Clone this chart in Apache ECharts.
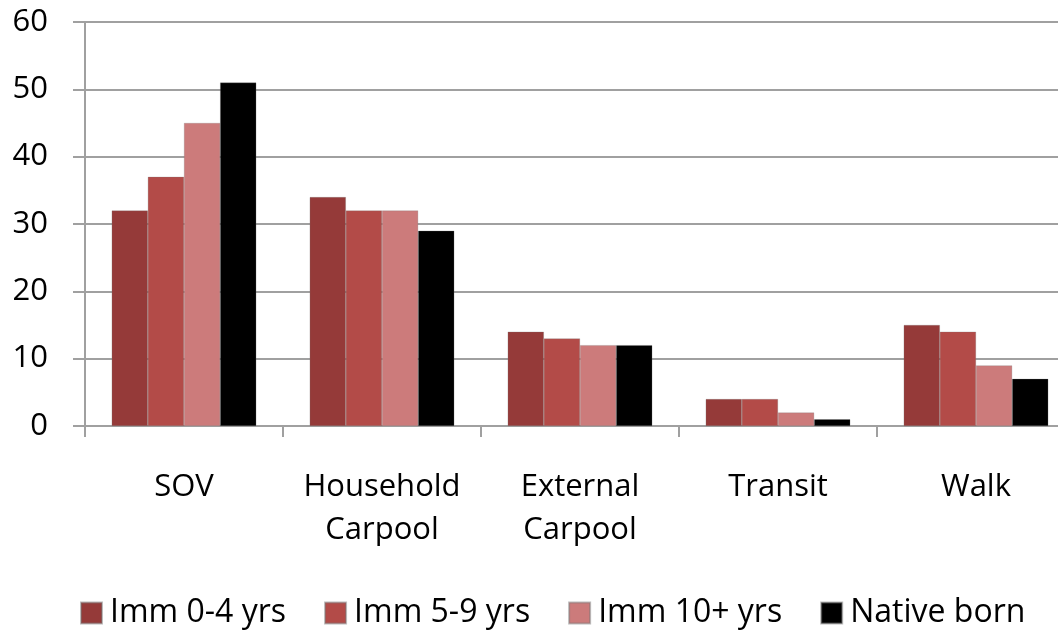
<!DOCTYPE html>
<html>
<head>
<meta charset="utf-8">
<script src="https://cdn.jsdelivr.net/npm/echarts@6/dist/echarts.min.js"></script>
<style>
  html, body { margin: 0; padding: 0; background: #fff; overflow: hidden; }
  /* the plot runs slightly past the right edge of the page */
  #chart { width: 1075px; height: 630px; }
</style>
</head>
<body>
<div id="chart"></div>
<script>
// Commute mode share (%) by immigrant tenure
const categories = ['SOV', 'Household\nCarpool', 'External\nCarpool', 'Transit', 'Walk'];
const seriesNames = ['Imm 0-4 yrs', 'Imm 5-9 yrs', 'Imm 10+ yrs', 'Native born'];
const imm04 = [32, 34, 14, 4, 15];
const imm59 = [37, 32, 13, 4, 14];
const imm10 = [45, 32, 12, 2, 9];
const nativeBorn = [51, 29, 12, 1, 7];
const yTicks = { min: 0, max: 60, interval: 10 };

const colors = ['#953A39', '#B34B48', '#CC7B7B', '#000000'];
const FONT = '"Open Sans", "Liberation Sans", sans-serif';

const values = [imm04, imm59, imm10, nativeBorn];

const chart = echarts.init(document.getElementById('chart'), null, { renderer: 'canvas' });
chart.setOption({
  animation: false,
  backgroundColor: '#ffffff',
  textStyle: { fontFamily: FONT },
  grid: { left: 85, right: 0, top: 22, bottom: 204, containLabel: false },
  legend: {
    data: seriesNames,
    left: 75,
    top: 592,
    itemWidth: 21,
    itemHeight: 21,
    itemGap: 38,
    icon: 'rect',
    textStyle: { fontFamily: FONT, fontSize: 32, color: '#000', padding: [0, 0, 0, 3] }
  },
  xAxis: {
    type: 'category',
    data: categories,
    boundaryGap: true,
    axisLine: { show: true, lineStyle: { color: '#A0A0A0', width: 2 } },
    axisTick: { show: true, length: 11, alignWithLabel: false, lineStyle: { color: '#A0A0A0', width: 2 } },
    axisLabel: {
      fontFamily: FONT, fontSize: 31, color: '#000', margin: 40, lineHeight: 43, interval: 0
    },
    splitLine: { show: false }
  },
  yAxis: {
    type: 'value',
    min: yTicks.min,
    max: yTicks.max,
    interval: yTicks.interval,
    axisLine: { show: true, lineStyle: { color: '#A0A0A0', width: 2 } },
    axisTick: { show: true, length: 12, lineStyle: { color: '#A0A0A0', width: 2 } },
    axisLabel: { fontFamily: FONT, fontSize: 31, color: '#000', margin: 37 },
    splitLine: { show: true, lineStyle: { color: '#A0A0A0', width: 2 } }
  },
  series: seriesNames.map((name, i) => ({
    name: name,
    type: 'bar',
    data: values[i],
    barGap: '0%',
    barCategoryGap: '27%',
    itemStyle: { color: colors[i], borderColor: 'rgba(120,120,120,0.5)', borderWidth: 0.5 },
    z: 3
  }))
});
</script>
</body>
</html>
